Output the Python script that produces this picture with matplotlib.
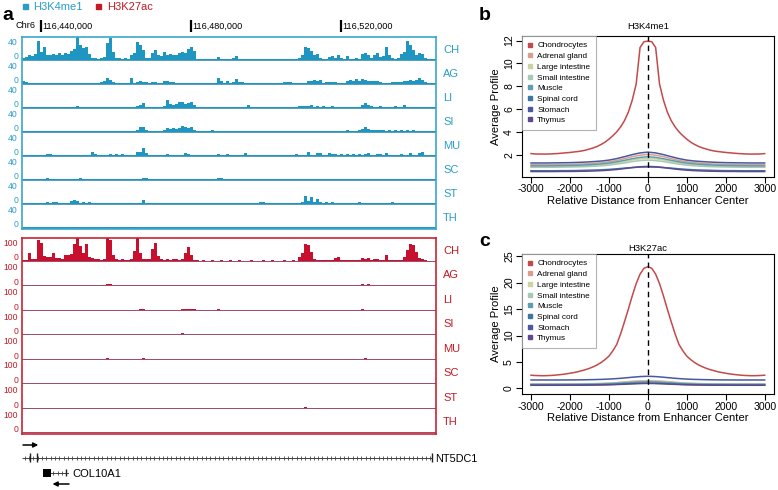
import numpy as np
import matplotlib
matplotlib.use('Agg')
import matplotlib.pyplot as plt
from matplotlib.patches import Rectangle
from matplotlib.lines import Line2D

plt.rcParams['font.family'] = ['Liberation Sans', 'DejaVu Sans']
plt.rcParams['axes.unicode_minus'] = False

# ---------------- data: panel a (genome browser) ----------------
view_start = 116435067
view_end = 116545413
bin_size = 800
coord_ticks = [116440000, 116480000, 116520000]
coord_labels = ['116,440,000', '116,480,000', '116,520,000']
track_names = ['CH', 'AG', 'LI', 'SI', 'MU', 'SC', 'ST', 'TH']

k4_CH = [4, 6, 10, 7, 11, 38, 16, 26, 10, 9,
         12, 10, 13, 9, 14, 12, 18, 22, 46, 30,
         24, 26, 12, 4, 3, 2, 3, 6, 34, 43,
         16, 4, 3, 2, 3, 2, 10, 14, 36, 30,
         20, 4, 3, 14, 20, 10, 8, 16, 9, 11,
         10, 9, 13, 16, 14, 22, 26, 18, 2, 1,
         1, 2, 1, 1, 1, 6, 1, 2, 1, 1,
         3, 8, 2, 1, 1, 2, 1, 1, 2, 1,
         1, 2, 1, 1, 2, 1, 1, 1, 2, 1,
         1, 2, 3, 10, 26, 24, 18, 9, 12, 3,
         2, 2, 6, 7, 3, 10, 4, 2, 8, 2,
         2, 3, 2, 12, 13, 10, 3, 10, 14, 6,
         8, 26, 10, 4, 2, 3, 12, 16, 38, 30,
         20, 10, 13, 12, 3, 2, 1, 1]
k4_AG = [5, 4, 1, 2, 1, 1, 2, 1, 1, 1,
         1, 2, 1, 1, 1, 2, 1, 1, 1, 2,
         1, 1, 1, 1, 2, 2, 3, 6, 11, 8,
         3, 1, 1, 1, 1, 1, 11, 2, 4, 5,
         4, 3, 1, 4, 4, 1, 2, 6, 6, 3,
         3, 2, 1, 1, 1, 1, 1, 1, 1, 1,
         1, 1, 1, 1, 1, 11, 6, 1, 5, 1,
         4, 9, 3, 3, 1, 1, 1, 1, 1, 1,
         2, 2, 1, 1, 1, 1, 1, 3, 3, 3,
         1, 1, 1, 1, 1, 6, 5, 7, 5, 8,
         2, 4, 4, 3, 4, 1, 2, 1, 6, 7,
         5, 9, 6, 9, 8, 6, 5, 6, 6, 4,
         2, 1, 2, 4, 4, 3, 4, 6, 5, 7,
         6, 8, 11, 7, 3, 2, 1, 1]
k4_LI = [1, 1, 2, 1, 1, 1, 1, 2, 1, 1,
         1, 1, 1, 2, 1, 1, 1, 1, 3, 1,
         1, 2, 1, 1, 1, 2, 1, 1, 2, 1,
         1, 1, 2, 1, 1, 1, 2, 1, 3, 6,
         10, 2, 1, 1, 2, 1, 2, 3, 16, 8,
         6, 7, 11, 12, 8, 9, 11, 5, 1, 1,
         2, 1, 1, 2, 1, 1, 2, 1, 2, 1,
         1, 2, 1, 1, 2, 5, 1, 1, 1, 1,
         1, 1, 1, 1, 1, 1, 1, 1, 1, 1,
         1, 1, 3, 3, 3, 3, 5, 2, 3, 2,
         3, 2, 2, 3, 1, 2, 1, 1, 1, 2,
         1, 1, 2, 5, 10, 5, 3, 2, 2, 3,
         2, 2, 2, 2, 3, 2, 2, 5, 2, 1,
         2, 1, 1, 2, 1, 1, 1, 1]
k4_SI = [1, 2, 1, 1, 1, 2, 1, 1, 2, 1,
         1, 1, 2, 1, 1, 1, 2, 1, 1, 1,
         2, 1, 1, 1, 2, 1, 1, 1, 1, 2,
         1, 1, 1, 2, 1, 1, 1, 2, 4, 10,
         10, 3, 1, 2, 1, 1, 1, 3, 8, 6,
         8, 6, 7, 12, 10, 7, 9, 4, 1, 1,
         1, 1, 1, 3, 1, 2, 1, 1, 2, 1,
         1, 2, 1, 1, 1, 2, 1, 1, 1, 2,
         1, 1, 1, 2, 1, 1, 1, 1, 2, 1,
         1, 1, 2, 1, 1, 1, 2, 1, 1, 2,
         1, 1, 2, 1, 1, 1, 2, 1, 4, 2,
         2, 1, 3, 6, 10, 6, 3, 3, 4, 3,
         4, 2, 3, 2, 3, 2, 3, 2, 3, 2,
         3, 2, 1, 1, 1, 1, 1, 1]
k4_MU = [2, 1, 1, 1, 1, 1, 1, 1, 4, 3,
         1, 1, 1, 1, 1, 1, 1, 1, 1, 1,
         1, 1, 1, 7, 4, 1, 1, 1, 2, 3,
         2, 3, 2, 3, 2, 1, 1, 2, 7, 8,
         15, 6, 1, 1, 1, 1, 1, 2, 4, 1,
         1, 1, 2, 1, 5, 3, 1, 1, 1, 1,
         1, 1, 1, 1, 1, 3, 1, 1, 3, 1,
         1, 1, 1, 1, 5, 1, 1, 1, 1, 1,
         1, 1, 1, 1, 1, 1, 1, 1, 1, 1,
         1, 3, 1, 1, 1, 7, 2, 1, 5, 5,
         1, 2, 6, 4, 3, 2, 3, 2, 3, 2,
         3, 2, 3, 2, 3, 6, 1, 2, 4, 4,
         2, 5, 1, 1, 2, 1, 4, 1, 2, 5,
         1, 2, 6, 7, 1, 1, 1, 1]
k4_SC = [1, 1, 1, 1, 1, 1, 1, 1, 3, 1,
         1, 1, 1, 1, 1, 1, 1, 1, 1, 3,
         1, 1, 1, 1, 1, 1, 1, 1, 1, 1,
         2, 1, 1, 1, 1, 1, 1, 1, 1, 1,
         3, 3, 1, 1, 1, 1, 2, 1, 1, 1,
         1, 1, 1, 1, 1, 1, 1, 1, 1, 1,
         1, 1, 1, 1, 1, 3, 3, 1, 1, 1,
         1, 1, 1, 1, 1, 2, 1, 1, 1, 1,
         1, 1, 1, 1, 1, 1, 1, 1, 1, 1,
         1, 1, 1, 1, 1, 1, 1, 1, 1, 1,
         1, 1, 1, 1, 1, 1, 1, 1, 1, 1,
         1, 1, 1, 1, 1, 1, 1, 1, 1, 2,
         2, 2, 1, 1, 1, 1, 1, 1, 2, 2,
         1, 2, 2, 1, 1, 1, 1, 1]
k4_ST = [1, 1, 2, 1, 1, 1, 1, 1, 3, 2,
         3, 3, 1, 2, 1, 1, 6, 8, 5, 2,
         3, 2, 3, 2, 1, 1, 1, 1, 1, 1,
         1, 1, 1, 1, 1, 1, 1, 1, 1, 1,
         7, 1, 1, 1, 1, 1, 1, 1, 2, 1,
         2, 2, 1, 2, 2, 1, 2, 1, 1, 1,
         1, 1, 1, 1, 1, 1, 1, 1, 1, 1,
         1, 1, 1, 1, 1, 1, 1, 1, 2, 3,
         3, 2, 1, 1, 1, 1, 1, 1, 1, 1,
         1, 1, 1, 4, 15, 6, 13, 3, 10, 3,
         2, 3, 2, 3, 2, 1, 2, 1, 2, 2,
         1, 2, 3, 2, 1, 2, 2, 1, 2, 1,
         2, 1, 2, 3, 1, 2, 1, 2, 1, 2,
         1, 2, 1, 1, 2, 1, 1, 1]
k4_TH = [1, 1, 2, 1, 1, 1, 1, 1, 1, 1,
         1, 1, 1, 1, 2, 1, 1, 1, 1, 1,
         1, 1, 1, 1, 1, 1, 1, 2, 1, 1,
         1, 1, 1, 1, 1, 1, 1, 1, 2, 1,
         1, 1, 1, 1, 1, 1, 1, 1, 2, 1,
         1, 2, 1, 1, 1, 1, 1, 1, 1, 1,
         1, 1, 1, 1, 1, 2, 1, 1, 1, 1,
         1, 1, 1, 1, 1, 1, 1, 1, 1, 1,
         1, 1, 1, 1, 1, 1, 1, 1, 1, 1,
         1, 1, 1, 1, 2, 1, 1, 1, 1, 1,
         1, 1, 1, 1, 1, 1, 1, 1, 1, 1,
         1, 1, 1, 2, 1, 1, 1, 1, 1, 1,
         1, 1, 1, 1, 1, 1, 1, 2, 1, 1,
         2, 1, 1, 1, 1, 1, 1, 1]

k27_CH = [3, 4, 39, 8, 8, 100, 90, 22, 20, 18,
          39, 16, 14, 12, 28, 30, 32, 82, 115, 73,
          40, 82, 20, 14, 12, 10, 6, 8, 115, 100,
          30, 8, 7, 8, 6, 7, 9, 48, 115, 39,
          10, 8, 8, 56, 87, 22, 8, 7, 8, 6,
          9, 8, 7, 9, 39, 70, 30, 5, 3, 2,
          3, 2, 2, 3, 2, 2, 3, 2, 2, 3,
          2, 2, 3, 2, 2, 2, 3, 2, 2, 2,
          3, 2, 2, 3, 2, 2, 2, 3, 2, 2,
          3, 2, 20, 38, 82, 79, 45, 12, 3, 3,
          3, 4, 3, 3, 15, 21, 4, 3, 4, 3,
          4, 5, 4, 13, 10, 13, 5, 8, 10, 4,
          5, 30, 5, 4, 5, 4, 6, 20, 54, 82,
          79, 46, 13, 8, 3, 2, 2, 2]
k27_AG = [2, 2, 2, 2, 2, 2, 2, 2, 2, 2,
          2, 2, 2, 2, 2, 2, 2, 2, 2, 2,
          2, 2, 2, 2, 2, 2, 2, 3, 9, 5,
          2, 2, 2, 2, 2, 2, 2, 2, 2, 2,
          2, 2, 2, 2, 2, 2, 2, 2, 2, 2,
          2, 2, 2, 2, 2, 2, 2, 2, 2, 2,
          2, 2, 2, 2, 2, 2, 4, 2, 2, 2,
          2, 2, 2, 2, 2, 4, 2, 2, 2, 2,
          2, 2, 2, 2, 2, 2, 2, 2, 2, 2,
          2, 2, 2, 2, 2, 3, 2, 4, 2, 2,
          2, 2, 2, 4, 3, 4, 3, 4, 4, 3,
          4, 2, 2, 5, 4, 5, 3, 2, 2, 2,
          4, 2, 3, 2, 4, 2, 3, 2, 4, 2,
          3, 2, 2, 3, 2, 2, 2, 2]
k27_LI = [2, 2, 2, 2, 2, 2, 2, 2, 2, 2,
          2, 2, 2, 2, 2, 2, 2, 2, 2, 2,
          2, 2, 2, 2, 2, 2, 2, 2, 2, 2,
          2, 2, 2, 2, 2, 2, 2, 2, 2, 3,
          6, 2, 2, 2, 2, 2, 2, 2, 2, 2,
          2, 2, 2, 4, 5, 4, 5, 4, 2, 2,
          2, 2, 2, 2, 2, 4, 2, 2, 2, 2,
          2, 2, 2, 2, 2, 2, 2, 2, 2, 2,
          2, 2, 2, 2, 2, 2, 2, 2, 2, 2,
          2, 2, 2, 2, 2, 2, 2, 2, 2, 2,
          2, 2, 2, 2, 2, 2, 2, 2, 2, 2,
          2, 2, 2, 3, 2, 2, 2, 2, 2, 2,
          2, 2, 2, 2, 2, 2, 2, 2, 2, 2,
          2, 2, 2, 2, 2, 2, 2, 2]
k27_SI = [2, 2, 2, 2, 2, 2, 2, 2, 2, 2,
          2, 2, 2, 2, 2, 2, 2, 2, 2, 2,
          2, 2, 2, 2, 2, 2, 2, 2, 2, 2,
          2, 2, 2, 2, 2, 2, 2, 2, 2, 2,
          2, 2, 2, 2, 3, 2, 2, 2, 2, 2,
          2, 2, 3, 6, 3, 2, 2, 2, 2, 2,
          2, 2, 2, 2, 2, 2, 2, 2, 2, 2,
          2, 2, 2, 2, 2, 2, 2, 2, 2, 2,
          2, 2, 2, 2, 2, 2, 2, 2, 2, 2,
          2, 2, 2, 2, 2, 2, 2, 2, 2, 2,
          2, 2, 2, 2, 2, 2, 2, 2, 2, 2,
          2, 2, 2, 2, 2, 2, 2, 2, 2, 2,
          2, 2, 2, 2, 2, 2, 2, 2, 2, 2,
          2, 2, 2, 2, 2, 2, 2, 2]
k27_MU = [2, 2, 2, 2, 2, 2, 2, 2, 2, 2,
          2, 2, 2, 2, 2, 2, 2, 2, 2, 2,
          2, 2, 2, 2, 2, 2, 2, 2, 3, 2,
          2, 2, 2, 2, 2, 2, 2, 2, 2, 2,
          3, 2, 2, 2, 2, 2, 2, 2, 2, 2,
          2, 2, 2, 2, 2, 2, 2, 2, 2, 2,
          2, 2, 2, 2, 2, 2, 2, 2, 2, 2,
          2, 2, 2, 2, 2, 2, 2, 2, 2, 2,
          2, 2, 2, 2, 2, 2, 2, 2, 2, 2,
          2, 2, 2, 2, 2, 2, 2, 2, 2, 2,
          2, 2, 2, 2, 2, 2, 2, 2, 2, 2,
          2, 2, 2, 2, 3, 2, 2, 2, 2, 2,
          2, 2, 2, 2, 2, 2, 2, 2, 2, 2,
          2, 2, 2, 2, 2, 2, 2, 2]
k27_SC = [2, 2, 2, 2, 2, 2, 2, 2, 2, 2,
          2, 2, 2, 2, 2, 2, 2, 2, 2, 2,
          2, 2, 2, 2, 2, 2, 2, 2, 2, 2,
          2, 2, 2, 2, 2, 2, 2, 2, 2, 2,
          2, 2, 2, 2, 2, 2, 2, 2, 2, 2,
          2, 2, 2, 2, 2, 2, 2, 2, 2, 2,
          2, 2, 2, 2, 2, 2, 2, 2, 2, 2,
          2, 2, 2, 2, 2, 2, 2, 2, 2, 2,
          2, 2, 2, 2, 2, 2, 2, 2, 2, 2,
          2, 2, 2, 2, 2, 2, 2, 2, 2, 2,
          2, 2, 2, 2, 2, 2, 2, 2, 2, 2,
          2, 2, 2, 2, 2, 2, 2, 2, 2, 2,
          2, 2, 2, 2, 2, 2, 2, 2, 2, 2,
          2, 2, 2, 2, 2, 2, 2, 2]
k27_ST = [2, 2, 2, 2, 2, 2, 2, 2, 2, 2,
          2, 2, 2, 2, 2, 2, 2, 2, 2, 2,
          2, 2, 2, 2, 2, 2, 2, 2, 2, 2,
          2, 2, 2, 2, 2, 2, 2, 2, 2, 2,
          2, 2, 2, 2, 2, 2, 2, 2, 2, 2,
          2, 2, 2, 2, 2, 2, 2, 2, 2, 2,
          2, 2, 2, 2, 2, 2, 2, 2, 2, 2,
          2, 2, 2, 2, 2, 2, 2, 2, 2, 2,
          2, 2, 2, 2, 2, 2, 2, 2, 2, 2,
          2, 2, 2, 2, 4, 2, 2, 2, 2, 2,
          2, 2, 2, 2, 2, 2, 2, 2, 2, 2,
          2, 2, 2, 2, 2, 2, 2, 2, 2, 2,
          2, 2, 2, 2, 2, 2, 2, 2, 2, 2,
          2, 2, 2, 2, 2, 2, 2, 2]
k27_TH = [2, 2, 2, 2, 2, 2, 2, 2, 2, 2,
          2, 2, 2, 2, 2, 2, 2, 2, 2, 2,
          2, 2, 2, 2, 2, 2, 2, 2, 2, 2,
          2, 2, 2, 2, 2, 2, 2, 2, 2, 2,
          2, 2, 2, 2, 2, 2, 2, 2, 2, 2,
          2, 2, 2, 2, 2, 2, 2, 2, 2, 2,
          2, 2, 2, 2, 2, 2, 2, 2, 2, 2,
          2, 2, 2, 2, 2, 2, 2, 2, 2, 2,
          2, 2, 2, 2, 2, 2, 2, 2, 2, 2,
          2, 2, 2, 2, 2, 2, 2, 2, 2, 2,
          2, 2, 2, 2, 2, 2, 2, 2, 2, 2,
          2, 2, 2, 2, 2, 2, 2, 2, 2, 2,
          2, 2, 2, 2, 2, 2, 2, 2, 2, 2,
          2, 2, 2, 2, 2, 2, 2, 2]

# genes (genomic coordinates)
nt5dc1_span = [116435200, 116544400]
nt5dc1_exons = [116437200, 116439150, 116544400]
col10a1_span = [116442800, 116447330]
col10a1_block = [116440670, 116442800]
col10a1_exons = [116446800]
arrow_plus = [116435330, 116439400]
arrow_minus = [116447600, 116443200]

# ---------------- data: panels b, c (average profiles) ----------------
tissues = ['Chondrocytes', 'Adrenal gland', 'Large intestine', 'Small intestine',
           'Muscle', 'Spinal cord', 'Stomach', 'Thymus']
dist_fine = list(range(-3000, 3001, 100))
dist_coarse = list(range(-3000, 3001, 200))

b_chondro_half = [2.12, 2.09, 2.08, 2.08, 2.08, 2.09, 2.11, 2.13, 2.16, 2.19,
                  2.22, 2.26, 2.30, 2.35, 2.42, 2.52, 2.62, 2.75, 2.92, 3.12,
                  3.38, 3.68, 4.02, 4.45, 5.0, 5.75, 6.8, 8.2, 11.4, 11.9, 11.95]
b_adrenal_half = [1.15, 1.15, 1.15, 1.16, 1.17, 1.18, 1.20, 1.23, 1.27, 1.32, 1.40, 1.52, 1.68, 1.85, 1.98, 2.05]
b_large_half = [0.98, 0.98, 0.98, 0.99, 1.0, 1.01, 1.03, 1.05, 1.09, 1.13, 1.20, 1.30, 1.42, 1.56, 1.66, 1.70]
b_small_half = [0.92, 0.92, 0.92, 0.93, 0.94, 0.95, 0.96, 0.98, 1.01, 1.05, 1.11, 1.20, 1.30, 1.42, 1.51, 1.55]
b_muscle_half = [1.05, 1.05, 1.05, 1.06, 1.07, 1.08, 1.10, 1.13, 1.17, 1.22, 1.29, 1.40, 1.53, 1.67, 1.79, 1.85]
b_spinal_half = [0.62, 0.62, 0.62, 0.62, 0.63, 0.63, 0.64, 0.66, 0.68, 0.70, 0.74, 0.79, 0.85, 0.90, 0.94, 0.95]
b_stomach_half = [1.30, 1.30, 1.30, 1.31, 1.32, 1.33, 1.35, 1.38, 1.42, 1.47, 1.55, 1.68, 1.85, 2.03, 2.18, 2.25]
b_thymus_half = [0.55, 0.55, 0.55, 0.55, 0.56, 0.56, 0.57, 0.58, 0.60, 0.63, 0.67, 0.73, 0.81, 0.90, 0.97, 1.0]

c_chondro_half = [2.5, 2.45, 2.42, 2.4, 2.42, 2.45, 2.5, 2.57, 2.65, 2.75,
                  2.87, 3.0, 3.15, 3.35, 3.55, 3.8, 4.1, 4.45, 4.9, 5.45,
                  6.1, 7.1, 8.3, 10.3, 12.6, 15.0, 17.5, 19.8, 21.6, 22.7, 23.0]
c_adrenal_half = [0.85, 0.85, 0.85, 0.85, 0.86, 0.86, 0.87, 0.89, 0.91, 0.95, 1.0, 1.1, 1.22, 1.34, 1.42, 1.45]
c_large_half = [0.80, 0.80, 0.80, 0.80, 0.81, 0.81, 0.82, 0.84, 0.86, 0.90, 0.95, 1.03, 1.14, 1.25, 1.32, 1.35]
c_small_half = [0.78, 0.78, 0.78, 0.78, 0.79, 0.79, 0.80, 0.82, 0.84, 0.87, 0.92, 1.0, 1.10, 1.20, 1.27, 1.30]
c_muscle_half = [0.75, 0.75, 0.75, 0.75, 0.76, 0.76, 0.77, 0.79, 0.81, 0.84, 0.89, 0.96, 1.06, 1.15, 1.22, 1.25]
c_spinal_half = [0.65, 0.65, 0.65, 0.65, 0.65, 0.66, 0.66, 0.67, 0.69, 0.71, 0.74, 0.79, 0.86, 0.93, 0.98, 1.0]
c_stomach_half = [1.6, 1.6, 1.6, 1.6, 1.6, 1.61, 1.62, 1.64, 1.67, 1.71, 1.77, 1.86, 1.98, 2.12, 2.24, 2.3]
c_thymus_half = [0.60, 0.60, 0.60, 0.60, 0.60, 0.61, 0.61, 0.62, 0.64, 0.66, 0.69, 0.74, 0.80, 0.87, 0.92, 0.95]

tissue_colors = ['#c4494a', '#d8a08c', '#cbd3a2', '#a8c8b6', '#5f9db0', '#3d76a2', '#4a58a0', '#5d4a8c']

# ---------------- figure ----------------
W, H = 778, 490
fig = plt.figure(figsize=(W / 100, H / 100), dpi=100)


def px_rect(x0, y0, x1, y1):
    return [x0 / W, 1 - y1 / H, (x1 - x0) / W, (y1 - y0) / H]


def ftext(x, y, s, **kw):
    fig.text(x / W, 1 - y / H, s, **kw)


def mirror(half):
    return list(half) + list(half[-2::-1])


BLUE = '#1f95c2'
BLUE_BOX = '#3aa6cc'
BLUE_TXT = '#2a9dca'
BLUE_BASE = '#3a8ea8'
RED = '#c8102e'
RED_BOX = '#cc2233'
RED_TXT = '#c41a24'
RED_BASE = '#8b2d4f'

bin_edges = view_start + bin_size * np.arange(len(k4_CH) + 1)
centers = (bin_edges[:-1] + bin_edges[1:]) / 2

# panel letter and legend
ftext(2, 15, 'a', fontsize=14, fontweight='bold', va='center', ha='left')
fig.patches.append(Rectangle((22.5 / W, 1 - 9.5 / H), 5 / W, 5 / H, transform=fig.transFigure,
                             color=BLUE_TXT, figure=fig))
ftext(33, 7.5, 'H3K4me1', fontsize=8, color=BLUE_TXT, va='center', ha='left')
fig.patches.append(Rectangle((96 / W, 1 - 9.5 / H), 5 / W, 5 / H, transform=fig.transFigure,
                             color=RED_TXT, figure=fig))
ftext(107, 7.5, 'H3K27ac', fontsize=8, color=RED_TXT, va='center', ha='left')

# coordinate header
ftext(16, 26, 'Chr6', fontsize=6.6, va='center', ha='left')
axh = fig.add_axes(px_rect(22, 19, 436, 33))
axh.set_xlim(view_start, view_end)
axh.set_ylim(0, 1)
axh.axis('off')
axh.vlines(coord_ticks, 0.1, 0.9, color='black', lw=1.6)
for t, lab in zip(coord_ticks, coord_labels):
    axh.text(t + 500, 0.5, lab, fontsize=6.6, va='center', ha='left')


def draw_group(data, top, h, ymax, fill, base, box, txt, toplab):
    for i, (name, vals) in enumerate(zip(track_names, data)):
        y0 = top + i * h
        ax = fig.add_axes(px_rect(22, y0, 436, y0 + h))
        ax.bar(centers, vals, width=bin_size, color=fill, linewidth=0, align='center')
        ax.axhline(0, color=base, lw=0.6)
        ax.set_xlim(view_start, view_end)
        ax.set_ylim(-ymax * 0.067, ymax)
        ax.axis('off')
        ftext(18, y0 + 5.5, toplab, fontsize=6.2, color=txt, ha='right', va='center')
        ftext(18, y0 + h - 4.5, '0', fontsize=6.2, color=txt, ha='right', va='center')
        ftext(443, y0 + h / 2 + 0.5, name, fontsize=8, color=txt, ha='left', va='center')
    axb_ = fig.add_axes(px_rect(22, top, 436, top + 8 * h))
    axb_.set_facecolor('none')
    axb_.set_xticks([])
    axb_.set_yticks([])
    for sp in axb_.spines.values():
        sp.set_color(box)
        sp.set_linewidth(1.2)


draw_group([k4_CH, k4_AG, k4_LI, k4_SI, k4_MU, k4_SC, k4_ST, k4_TH],
           37.3, 24.0, 45, BLUE, BLUE_BASE, BLUE_BOX, BLUE_TXT, '40')
draw_group([k27_CH, k27_AG, k27_LI, k27_SI, k27_MU, k27_SC, k27_ST, k27_TH],
           238.0, 24.5, 112, RED, RED_BASE, RED_BOX, RED_TXT, '100')

# gene track
axg = fig.add_axes(px_rect(22, 436, 436, 490))
axg.set_xlim(view_start, view_end)
axg.set_ylim(490, 436)
axg.axis('off')
gcol = '#444444'
axg.plot(nt5dc1_span, [458, 458], color=gcol, lw=0.7, solid_capstyle='butt')
marks = np.arange(nt5dc1_span[0] + 600, nt5dc1_span[1] - 300, 1150)
axg.plot(marks, np.full(len(marks), 458), ls='none', marker='+', ms=3.2, mew=0.6, color=gcol)
axg.vlines(nt5dc1_exons, 453.5, 462.5, color='#222222', lw=1.0)
axg.annotate('', xy=(arrow_plus[1], 445), xytext=(arrow_plus[0], 445),
             arrowprops=dict(arrowstyle='-|>', color='black', lw=1.1, mutation_scale=7, shrinkA=0, shrinkB=0))
axg.plot(col10a1_span, [473, 473], color=gcol, lw=0.7)
marks2 = np.arange(col10a1_span[0] + 600, col10a1_span[1] - 300, 1150)
axg.plot(marks2, np.full(len(marks2), 473), ls='none', marker='+', ms=3.2, mew=0.6, color=gcol)
axg.add_patch(Rectangle((col10a1_block[0], 469), col10a1_block[1] - col10a1_block[0], 8,
                        color='black', lw=0))
axg.vlines(col10a1_exons, 469.5, 476.5, color='#222222', lw=1.0)
axg.annotate('', xy=(arrow_minus[1], 484), xytext=(arrow_minus[0], 484),
             arrowprops=dict(arrowstyle='-|>', color='black', lw=1.1, mutation_scale=7, shrinkA=0, shrinkB=0))
ftext(435, 458.5, 'NT5DC1', fontsize=7.8, ha='left', va='center')
ftext(72, 473.5, 'COL10A1', fontsize=8, ha='left', va='center')


# ---------------- panels b, c ----------------
def profile_panel(rect, title, title_pad, letter, letter_xy, chondro, others, ylim, yticks):
    ax = fig.add_axes(rect)
    ax.plot(dist_fine, mirror(chondro), color=tissue_colors[0], lw=1.1)
    for col, half in zip(tissue_colors[1:], others):
        ax.plot(dist_coarse, mirror(half), color=col, lw=1.1)
    ax.axvline(0, color='black', lw=1.0, ls=(0, (4, 3)))
    ax.set_xlim(-3240, 3240)
    ax.set_ylim(*ylim)
    ax.set_xticks(range(-3000, 3001, 1000))
    ax.set_yticks(yticks)
    ax.set_yticklabels([str(v) for v in yticks], rotation=90, va='center')
    ax.tick_params(labelsize=7.6, length=4, width=0.8, pad=1.5)
    for sp in ax.spines.values():
        sp.set_linewidth(0.8)
    ax.set_title(title, fontsize=6.8, pad=title_pad)
    ax.set_xlabel('Relative Distance from Enhancer Center', fontsize=8.1, labelpad=1)
    ax.set_ylabel('Average Profile', fontsize=8.1, labelpad=2)
    handles = [Line2D([], [], marker='s', ls='none', color=c, markersize=3) for c in tissue_colors]
    leg = ax.legend(handles, tissues, loc='upper left', bbox_to_anchor=(0, 1), borderaxespad=0,
                    fontsize=5.9, frameon=True, fancybox=False, edgecolor='#a0a0a0',
                    handlelength=0.7, handletextpad=0.5, labelspacing=0.36, borderpad=0.7)
    leg.get_frame().set_linewidth(0.8)
    ftext(letter_xy[0], letter_xy[1], letter, fontsize=14, fontweight='bold', ha='left', va='center')
    return ax


profile_panel(px_rect(521.7, 36, 774, 176.7), 'H3K4me1', 5, 'b', (479, 15), b_chondro_half,
              [b_adrenal_half, b_large_half, b_small_half, b_muscle_half, b_spinal_half,
               b_stomach_half, b_thymus_half], (0.1, 12.4), [2, 4, 6, 8, 10, 12])
profile_panel(px_rect(521.7, 254, 774, 394), 'H3K27ac', 2, 'c', (479, 242), c_chondro_half,
              [c_adrenal_half, c_large_half, c_small_half, c_muscle_half, c_spinal_half,
               c_stomach_half, c_thymus_half], (-1.05, 25.4), [0, 5, 10, 15, 20, 25])

fig.savefig('out.png', dpi=100)
